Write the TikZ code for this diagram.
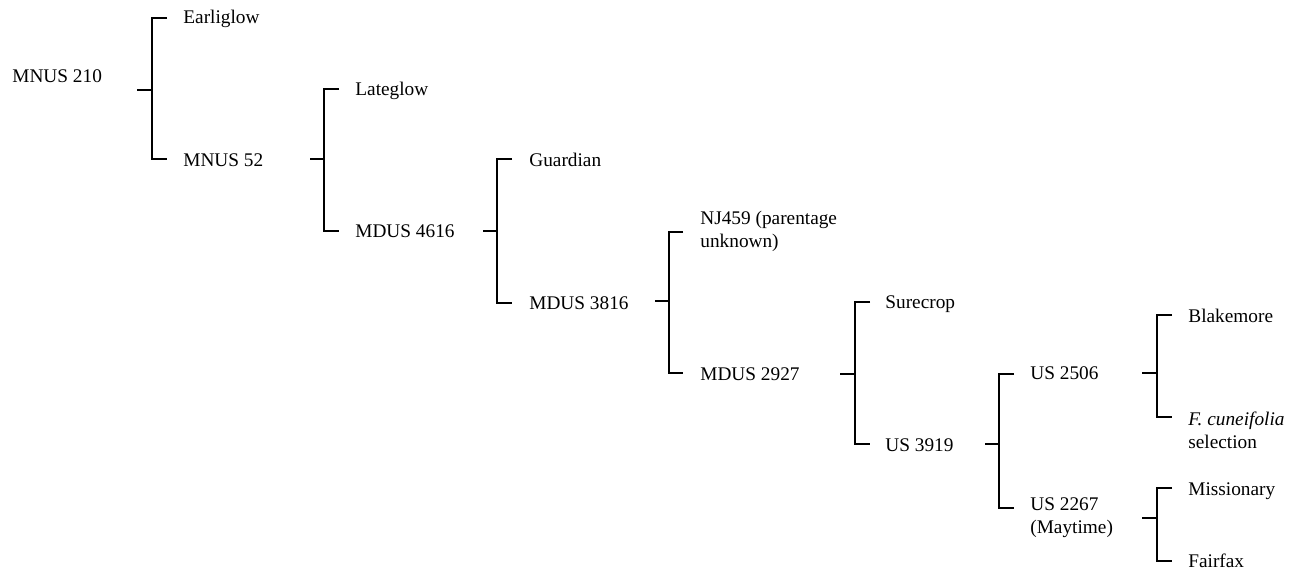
\documentclass[tikz,border=0pt]{standalone}
\usepackage{fontspec}
\setmainfont{Liberation Serif}
\begin{document}
\begin{tikzpicture}[x=0.5pt,y=-0.5pt,
    lbl/.style={anchor=base west, inner sep=0pt, align=left,
      font=\fontsize{9.65}{11.5}\selectfont},
    link/.style={line width=0.7pt}]
  \useasboundingbox (0,0) rectangle (1298,571);

  % cultivar labels (two-line labels sit on their last baseline)
  \node[lbl] (mnus210) at (12,83) {MNUS 210};
  \node[lbl] (earliglow) at (183,24) {Earliglow};
  \node[lbl] (mnus52) at (183,167) {MNUS 52};
  \node[lbl] (lateglow) at (355,96) {Lateglow};
  \node[lbl] (mdus4616) at (355,238) {MDUS 4616};
  \node[lbl] (guardian) at (529,167) {Guardian};
  \node[lbl] (mdus3816) at (529,310) {MDUS 3816};
  \node[lbl] (nj459) at (700,248) {NJ459 (parentage\\unknown)};
  \node[lbl] (mdus2927) at (700,381) {MDUS 2927};
  \node[lbl] (surecrop) at (885,309) {Surecrop};
  \node[lbl] (us3919) at (885,452) {US 3919};
  \node[lbl] (us2506) at (1030,380) {US 2506};
  \node[lbl] (us2267) at (1030,534) {US 2267\\(Maytime)};
  \node[lbl] (blakemore) at (1188,323) {Blakemore};
  \node[lbl] (cuneifolia) at (1188,449) {\textit{F. cuneifolia}\\selection};
  \node[lbl] (missionary) at (1188,496) {Missionary};
  \node[lbl] (fairfax) at (1188,568) {Fairfax};

  % brackets: stub start, junction, upper and lower tick ends
  \coordinate (s1) at (137,90);   \coordinate (j1) at (152,90);
  \coordinate (u1) at (167,18);   \coordinate (d1) at (167,159);
  \coordinate (s2) at (310,159);  \coordinate (j2) at (324,159);
  \coordinate (u2) at (339,89);   \coordinate (d2) at (339,231);
  \coordinate (s3) at (483,231);  \coordinate (j3) at (497,231);
  \coordinate (u3) at (512,159);  \coordinate (d3) at (512,303);
  \coordinate (s4) at (655,301);  \coordinate (j4) at (669,301);
  \coordinate (u4) at (683,232);  \coordinate (d4) at (683,373);
  \coordinate (s5) at (840,374);  \coordinate (j5) at (855,374);
  \coordinate (u5) at (870,302);  \coordinate (d5) at (870,444);
  \coordinate (s6) at (985,444);  \coordinate (j6) at (999,444);
  \coordinate (u6) at (1014,374); \coordinate (d6) at (1014,508);
  \coordinate (s7) at (1142,373); \coordinate (j7) at (1157,373);
  \coordinate (u7) at (1172,315); \coordinate (d7) at (1172,417);
  \coordinate (s8) at (1142,518); \coordinate (j8) at (1157,518);
  \coordinate (u8) at (1172,488); \coordinate (d8) at (1172,561);

  \foreach \k in {1,...,8} {
    \draw[link] (s\k) -- (j\k);
    \draw[link] (u\k) -- (u\k -| j\k) -- (d\k -| j\k) -- (d\k);
  }
\end{tikzpicture}
\end{document}
